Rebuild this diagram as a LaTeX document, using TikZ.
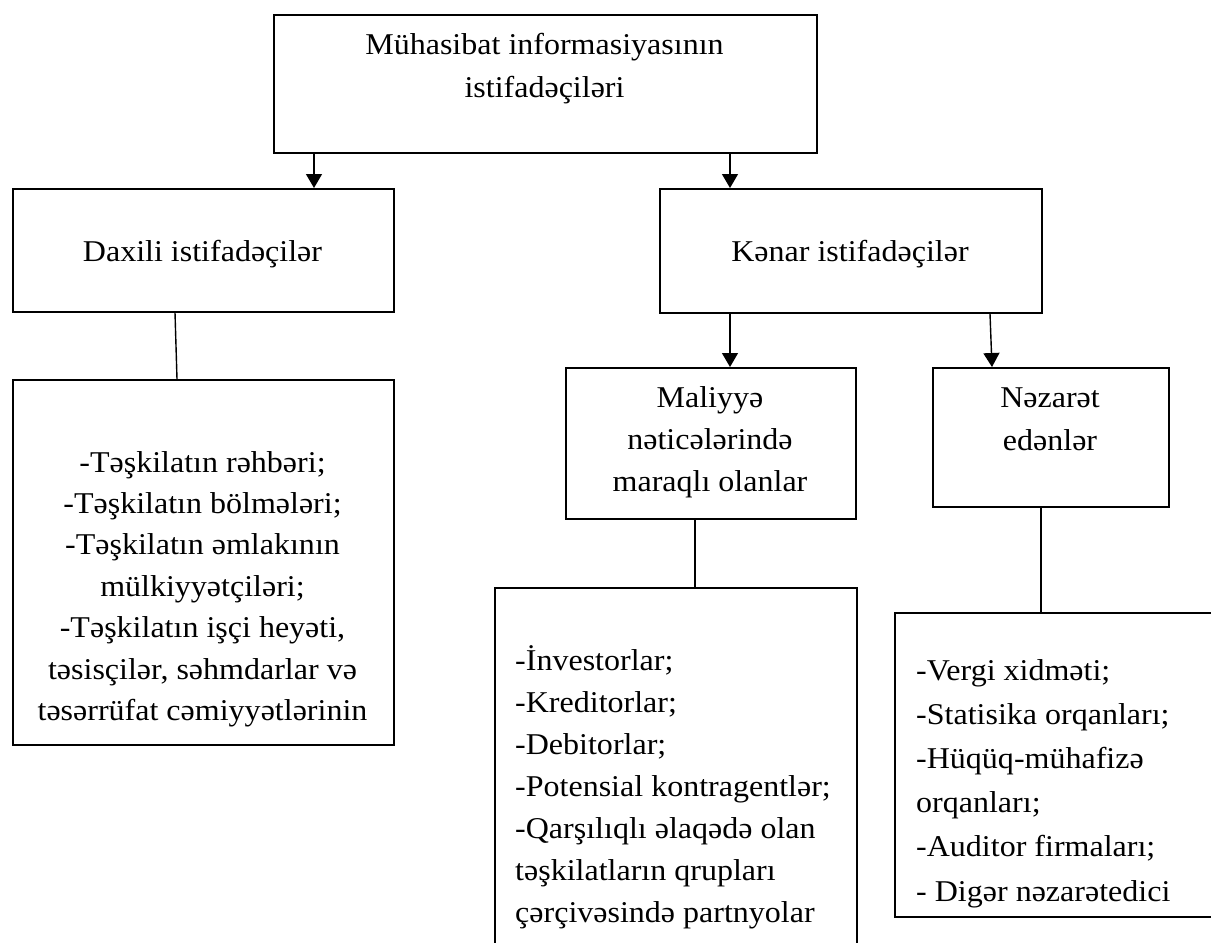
\documentclass[tikz,border=0pt]{standalone}
\usepackage{fontspec}
\setmainfont{Liberation Serif}[FakeStretch=1.06]
\usetikzlibrary{arrows.meta}
\tikzset{
  box/.style={draw=black, line width=1.6pt, inner sep=0pt, anchor=north west, fill=none},
  conn/.style={draw=black, line width=1.4pt},
  arr/.style={conn, -{Triangle[length=14pt,width=16pt]}},
  txt/.style={inner sep=0pt, font=\fontsize{30.2}{42}\selectfont},
}
\begin{document}
\begin{tikzpicture}[x=1pt,y=-1pt]
\useasboundingbox (0,0) rectangle (1211,943);
\clip (0,0) rectangle (1211,943);
% boxes
\node[box, minimum width=543pt, minimum height=138pt] (top) at (273,14) {};
\node[box, minimum width=381pt, minimum height=123pt] (dax) at (12,188) {};
\node[box, minimum width=382pt, minimum height=124pt] (ken) at (659,188) {};
\node[box, minimum width=290pt, minimum height=151pt] (mal) at (565,367) {};
\node[box, minimum width=236pt, minimum height=139pt] (nez) at (932,367) {};
\node[box, minimum width=381pt, minimum height=365pt] (bl) at (12,379) {};
\node[box, minimum width=362pt, minimum height=380pt] (bm) at (494,587) {};
\node[box, minimum width=340pt, minimum height=304pt] (br) at (894,612) {};
% texts (anchor=base is the baseline of the last line)
\node[txt, align=center, anchor=base, font=\fontsize{30.2}{42.5}\selectfont] (ttop) at (544.5,97) {Mühasibat informasiyasının\\istifadəçiləri};
\node[txt, anchor=base] (tdax) at (202.5,261) {Daxili istifadəçilər};
\node[txt, anchor=base] (tken) at (850,261) {Kənar istifadəçilər};
\node[txt, align=center, anchor=base] (tmal) at (710,491) {Maliyyə\\nəticələrində\\maraqlı olanlar};
\node[txt, align=center, anchor=base, font=\fontsize{30.2}{43}\selectfont] (tnez) at (1050,450) {Nəzarət\\edənlər};
\node[txt, align=center, anchor=base, font=\fontsize{30.2}{41.4}\selectfont] (tbl) at (202.5,720.4) {-Təşkilatın rəhbəri;\\-Təşkilatın bölmələri;\\-Təşkilatın əmlakının\\mülkiyyətçiləri;\\-Təşkilatın işçi heyəti,\\təsisçilər, səhmdarlar və\\təsərrüfat cəmiyyətlərinin};
\node[txt, align=left, anchor=base west] (tbm) at (515,922) {-İnvestorlar;\\-Kreditorlar;\\-Debitorlar;\\-Potensial kontragentlər;\\-Qarşılıqlı əlaqədə olan\\təşkilatların qrupları\\çərçivəsində partnyolar};
\node[txt, align=left, anchor=base west, font=\fontsize{30.2}{44.2}\selectfont] (tbr) at (916,901) {-Vergi xidməti;\\-Statisika orqanları;\\-Hüqüq-mühafizə\\orqanları;\\-Auditor firmaları;\\- Digər nəzarətedici};
% connectors
\draw[arr] ([xshift=41pt]top.south west) -- ([xshift=41pt]top.south west |- dax.north);
\draw[arr] ([xshift=71pt]ken.north west |- top.south) -- ([xshift=71pt]ken.north west);
\draw[conn] ([xshift=163pt]dax.south west) -- ([xshift=165pt]bl.north west);
\draw[arr] ([xshift=71pt]ken.south west) -- ([xshift=71pt]ken.south west |- mal.north);
\draw[arr] ([xshift=331pt]ken.south west) -- ([xshift=60pt]nez.north west);
\draw[conn] ([xshift=130pt]mal.south west) -- ([xshift=201pt]bm.north west);
\draw[conn] ([xshift=109pt]nez.south west) -- ([xshift=147pt]br.north west);
\end{tikzpicture}
\end{document}
